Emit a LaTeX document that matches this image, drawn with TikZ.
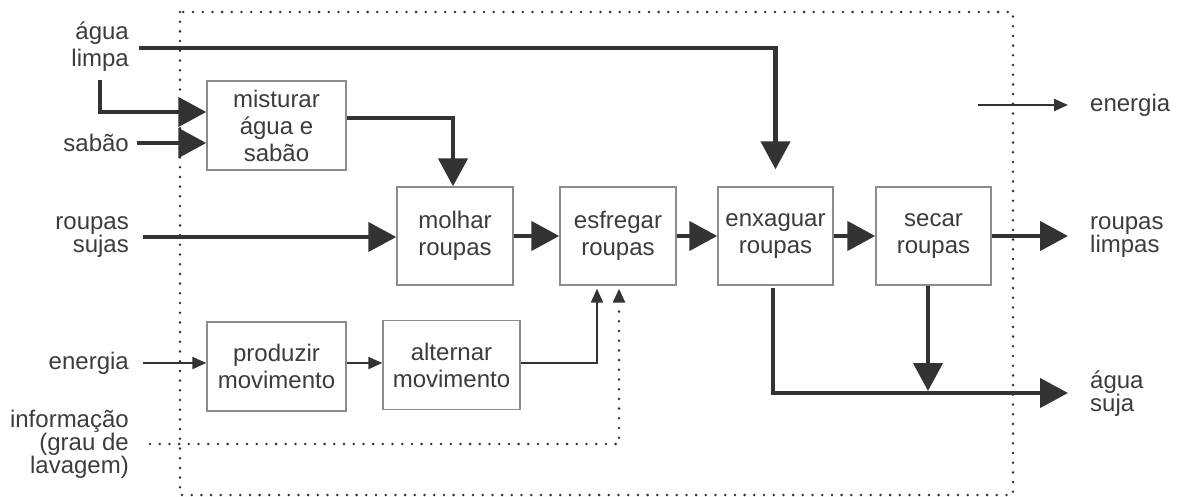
\documentclass[tikz,border=0pt]{standalone}
\usepackage{fontspec}
\setmainfont{Liberation Sans}
\usetikzlibrary{arrows.meta}
\definecolor{ink}{HTML}{333333}
\definecolor{txt}{HTML}{3C3C3C}
\definecolor{frame}{HTML}{8C8C8C}
\begin{document}
\begin{tikzpicture}[x=1pt,y=-1pt,
  box/.style={draw=frame,line width=1.4pt,fill=white,text=txt,align=center,
    font=\fontsize{24}{27}\selectfont,inner sep=0pt},
  lbl/.style={text=txt,font=\fontsize{24}{24}\selectfont,inner sep=0pt},
  big/.style={draw=ink,line width=4.5pt,-{Triangle[length=28pt,width=29pt]}},
  thinarrow/.style={draw=ink,line width=2.3pt,-{Triangle[length=14pt,width=12pt]}},
  dots/.style={draw=ink,line width=2.8pt,dash pattern=on 0pt off 9.7pt,line cap=round}]
\useasboundingbox (0,0) rectangle (1184,497);

% system boundary
\draw[dots] (180,12) rectangle (1013,495);

% boxes
\node[box,minimum width=139pt,minimum height=89pt] (mist) at (276.5,125.5) {misturar\\água e\\sabão};
\node[box,minimum width=116pt,minimum height=98pt] (molhar) at (455,236) {molhar\\roupas};
\node[box,minimum width=116pt,minimum height=98pt] (esf) at (618,236) {esfregar\\roupas};
\node[box,minimum width=115pt,minimum height=98pt] (enx) at (775.5,236) {enxaguar\\roupas};
\node[box,minimum width=115pt,minimum height=98pt] (secar) at (933.5,236) {secar\\roupas};
\node[box,minimum width=139pt,minimum height=89pt] (prod) at (276.5,366.5) {produzir\\movimento};
\node[box,minimum width=137pt,minimum height=89pt] (alt) at (451.5,365) {alternar\\movimento};

% labels
\node[lbl,align=right,anchor=east,font=\fontsize{24}{27}\selectfont] (agua) at (129,47) {água\\limpa};
\node[lbl,anchor=east] (sabao) at (129,143) {sabão};
\node[lbl,align=right,anchor=east,font=\fontsize{24}{23}\selectfont] (sujas) at (129,237) {roupas\\sujas};
\node[lbl,anchor=east] (enL) at (129,363) {energia};
\node[lbl,align=right,anchor=east,font=\fontsize{24}{23}\selectfont] (info) at (129,444) {informação\\(grau de\\lavagem)};
\node[lbl,anchor=west] (enR) at (1090,105) {energia};
\node[lbl,align=left,anchor=west,font=\fontsize{24}{23}\selectfont] (limpas) at (1090,237) {roupas\\limpas};
\node[lbl,align=left,anchor=west,font=\fontsize{24}{23}\selectfont] (suja) at (1090,394) {água\\suja};

% free ends
\coordinate (a1) at (139,48);
\coordinate (a2) at (100,80);
\coordinate (limpTip) at (1068,236);
\coordinate (eS) at (978,105);
\coordinate (sujaTip) at (1068,393);
\coordinate (joinTip) at (928,391);

% connectors
\draw[big] (a1) -| ([yshift=17pt]enx.north);
\draw[big] (a2) |- ([yshift=13.5pt]mist.west);
\draw[big] ([xshift=8pt]sabao.east) -- (sabao.east -| mist.west);
\draw[big] ([yshift=7.5pt]mist.east) -| ([xshift=-2pt]molhar.north);
\draw[big] ([xshift=14pt]sujas.east) -- (sujas.east -| molhar.west);
\draw[big] (molhar.east) -- (esf.west);
\draw[big] (esf.east) -- (enx.west);
\draw[big] (enx.east) -- (secar.west);
\draw[big] (secar.east) -- (limpTip);
\draw[big] ([xshift=-2.5pt,yshift=-2pt]enx.south) |- (sujaTip);
\draw[big] ([xshift=-5.5pt]secar.south) -- (joinTip);

\draw[thinarrow] (eS) -- ([xshift=-22pt]enR.west);
\draw[thinarrow] ([xshift=14pt]enL.east) -- (enL.east -| prod.west);
\draw[thinarrow] (prod.east |- 0,363) -- (alt.west |- 0,363);
\draw[thinarrow] (alt.east |- 0,363) -| ([xshift=-21pt,yshift=-3pt]esf.south);
\draw[dots,-{Triangle[length=14pt,width=12pt]}] ([xshift=21pt]info.east) -| ([xshift=1pt,yshift=-3pt]esf.south);
\end{tikzpicture}
\end{document}
